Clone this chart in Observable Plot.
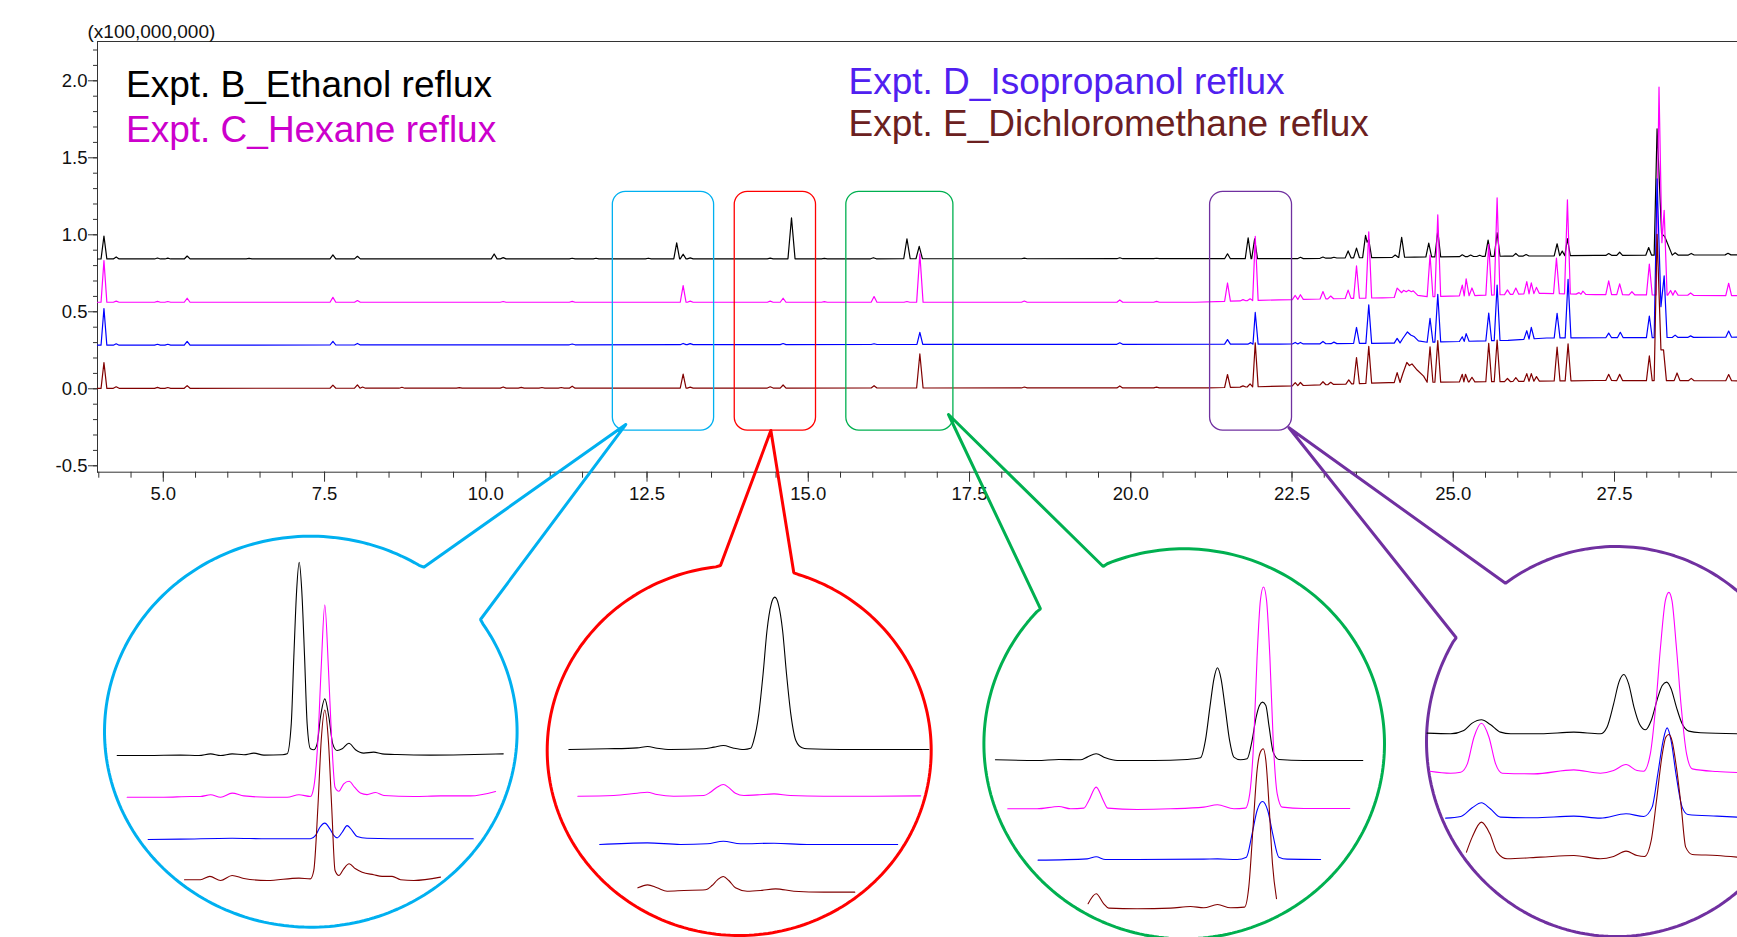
<!DOCTYPE html>
<html><head><meta charset="utf-8">
<script src="https://cdn.jsdelivr.net/npm/d3@7"></script>
<script src="https://cdn.jsdelivr.net/npm/@observablehq/plot@0.6"></script>
<style>
body{margin:0;background:#fff;}
#wrap{position:relative;width:1737px;height:937px;overflow:hidden;background:#fff;}
#wrap svg{position:absolute;left:0;top:0;}
</style></head><body><div id="wrap"></div>
<script>
// ---------------- DATA ----------------
const seriesNames = ["Expt. B_Ethanol reflux","Expt. C_Hexane reflux","Expt. D_Isopropanol reflux","Expt. E_Dichloromethane reflux"];
const lineColors = ["#000000","#ff00ff","#0000ff","#800000"];
const labelColors = ["#000000","#cc00cc","#5020f0","#6b2020"];
const unitLabel = "(x100,000,000)";
const xMajorTicks = [5.0,7.5,10.0,12.5,15.0,17.5,20.0,22.5,25.0,27.5];
const yMajorTicks = [-0.5,0.0,0.5,1.0,1.5,2.0];

// baseline levels (retention time, intensity x1e8)
const baseB = [[3.98,0.843],[22.6,0.845],[23.3,0.85],[24.4,0.855],[25.8,0.861],[27.2,0.866],[29.41,0.87]];
const baseC = [[3.98,0.562],[21.0,0.562],[22.3,0.578],[23.9,0.591],[25.4,0.606],[26.4,0.62],[27.2,0.612],[29.41,0.605]];
const baseD = [[3.98,0.283],[22.3,0.29],[24.0,0.296],[25.85,0.315],[26.45,0.33],[29.41,0.335]];
const baseE = [[3.98,0.003],[21.2,0.006],[22.35,0.017],[24.0,0.04],[25.85,0.047],[27.2,0.054],[29.41,0.052]];

// peaks: [rt, height above baseline, (half-width | 0 = plain vertex)]
const peaksB = [[4.08,0.149],[4.27,0.013],[4.91,0.006],[5.07,0.005],[5.37,0.019],[6.33,0.004],[7.63,0.026],[8.01,0.017],[10.13,0.032],[10.27,0.008],[11.34,0.004],[11.71,0.004],[12.52,0.004],[12.96,0.104],[13.06,0.030],[13.17,0.006],[14.41,0.004],[14.74,0.266,0.055],[15.25,0.003],[16.01,0.007],[16.53,0.130,0.05],[16.72,0.080,0.05],[18.35,0.004],[19.83,0.006],[20.40,0.003],[21.50,0.032],[21.82,0.136],[21.92,0.128],[22.63,0.009],[22.98,0.008],[23.15,0.005],[23.37,0.045],[23.50,0.063],[23.64,0.145],[23.665,0.10,0],[23.69,0.117],[24.10,0.015],[24.20,0.13],[24.62,0.09],[24.76,0.17],[25.14,0.012],[25.27,0.01],[25.41,0.008],[25.54,0.105],[25.68,0.153],[25.97,0.017],[26.13,0.01],[26.61,0.078],[26.69,0.03],[26.77,0.11],[27.41,0.012],[27.58,0.02],[28.03,0.05],[28.16,0.82],[28.23,0.14,0],[28.28,0.12,0],[28.44,0.015],[28.69,0.01],[29.26,0.01]];
const peaksC = [[4.08,0.271],[4.27,0.007],[4.91,0.006],[5.07,0.005],[5.37,0.026],[7.63,0.032],[8.01,0.011],[10.27,0.005],[11.34,0.006],[13.06,0.108],[13.17,0.007],[14.41,0.007],[14.61,0.026],[15.25,0.004],[16.02,0.037],[16.53,0.005],[16.73,0.314,0.05],[18.35,0.008],[19.83,0.015],[20.40,0.006],[21.50,0.119],[21.74,0.008],[21.85,0.012],[21.93,0.416],[22.55,0.026],[22.63,0.03],[22.98,0.048],[23.10,0.018],[23.37,0.054],[23.50,0.21],[23.69,0.43],[24.13,0.06],[24.20,0.03,0],[24.23,0.045,0],[24.27,0.035,0],[24.31,0.045,0],[24.35,0.035,0],[24.38,0.04,0],[24.45,0.01,0],[24.64,0.27],[24.76,0.53],[25.14,0.07],[25.20,0.11],[25.29,0.05],[25.55,0.33],[25.68,0.63],[25.84,0.03],[25.97,0.04],[26.14,0.08],[26.21,0.07],[26.29,0.04],[26.60,0.23],[26.77,0.61],[26.95,0.01],[27.01,0.02],[27.41,0.09],[27.58,0.07],[27.77,0.02],[28.04,0.2],[28.19,1.35],[28.235,0.34,0],[28.27,0.55],[28.37,0.03],[28.44,0.03],[28.68,0.015],[29.27,0.08]];
const peaksD = [[4.08,0.238],[4.27,0.009],[4.91,0.006],[5.07,0.006],[5.37,0.024],[7.63,0.024],[8.01,0.01],[11.34,0.005],[13.06,0.008],[13.17,0.007],[14.61,0.007],[16.02,0.005],[16.73,0.078],[19.83,0.01],[21.50,0.03],[21.86,0.01],[21.93,0.206],[22.55,0.01],[22.63,0.01],[22.98,0.015],[23.15,0.01],[23.50,0.104],[23.69,0.25],[24.13,0.03],[24.22,0.03,0],[24.29,0.07,0],[24.34,0.05,0],[24.39,0.04,0],[24.46,0.01,0],[24.64,0.155],[24.76,0.31],[25.14,0.03],[25.20,0.05],[25.55,0.18],[25.68,0.36],[26.14,0.055],[26.21,0.075],[26.61,0.16],[26.78,0.38],[27.41,0.03],[27.59,0.035],[28.04,0.14],[28.16,1.03],[28.22,0.2,0],[28.27,0.4],[28.44,0.015],[28.68,0.01],[29.27,0.04]];
const peaksE = [[4.08,0.167],[4.27,0.01],[4.91,0.006],[5.07,0.005],[5.37,0.017],[7.63,0.02],[8.01,0.022],[8.09,0.008],[8.70,0.006],[9.59,0.004],[10.27,0.008],[10.55,0.005],[10.87,0.004],[11.17,0.004],[11.34,0.013],[13.06,0.091],[13.17,0.006],[14.41,0.008],[14.61,0.02],[16.02,0.015],[16.73,0.221,0.05],[18.35,0.006],[19.83,0.013],[20.40,0.005],[21.50,0.084],[21.74,0.008],[21.85,0.02],[21.93,0.286],[22.55,0.02],[22.63,0.02],[22.98,0.02],[23.10,0.015],[23.38,0.026],[23.50,0.17],[23.69,0.24],[24.13,0.065],[24.22,0.06,0],[24.28,0.13,0],[24.32,0.11,0],[24.36,0.12,0],[24.44,0.08,0],[24.54,0.04,0],[24.64,0.23],[24.76,0.27],[25.14,0.05],[25.19,0.05],[25.29,0.03],[25.55,0.25],[25.68,0.27],[25.84,0.02],[25.97,0.025],[26.14,0.05],[26.21,0.05],[26.29,0.03],[26.61,0.22],[26.78,0.24],[27.41,0.04],[27.58,0.04],[28.04,0.16],[28.16,0.95],[28.22,0.2,0],[28.26,0.2],[28.47,0.05],[28.69,0.015],[29.27,0.04]];

// callout windows on the main chart (rt range) and their intensity span
const calloutWindows = [[11.97,13.54],[13.86,15.12],[15.59,17.25],[21.23,22.50]];
const calloutSpan = [-0.271,1.279];
const calloutColors = ["#00b0f0","#ff0000","#00b050","#7030a0"];
const calloutTips = [[12.17,-0.232],[14.42,-0.271],[17.174,-0.167],[22.453,-0.253]];

// zoomed insets: [rt, height (x1e6)] per experiment
const cyanB = [[12.249,0],[12.366,0],[12.496,0.02],[12.568,0],[12.614,0.09],[12.653,0],[12.698,0.09],[12.744,0.04],[12.783,0.13],[12.822,0.02],[12.895,0.04],[12.913,0.09],[12.929,1.71],[12.939,5.30],[12.950,8.89],[12.960,10.41],[12.970,8.89],[12.981,5.30],[12.991,1.71],[13.004,0.36],[13.017,0.31],[13.030,0.63],[13.043,2.06],[13.060,3.05],[13.076,2.06],[13.091,0.63],[13.108,0.27],[13.128,0.36],[13.154,0.66],[13.180,0.31],[13.212,0.13],[13.251,0.18],[13.284,0.09],[13.343,0.05],[13.473,0.02],[13.603,0.04],[13.757,0.09]];
const cyanC = [[12.288,0],[12.431,0],[12.535,0.04],[12.574,0.04],[12.614,0.13],[12.653,0],[12.698,0.22],[12.744,0.07],[12.835,0],[12.913,0],[12.959,0.13],[13.004,0.04],[13.017,0.54],[13.033,3.05],[13.046,7.00],[13.060,10.36],[13.074,7.00],[13.087,3.05],[13.100,0.54],[13.115,0.32],[13.134,0.72],[13.155,0.86],[13.176,0.54],[13.199,0.22],[13.225,0.14],[13.258,0.25],[13.291,0.09],[13.408,0.04],[13.512,0.07],[13.629,0.07],[13.727,0.31]];
const cyanD = [[12.370,0],[12.496,0.02],[12.698,0.07],[12.835,0.04],[13.004,0.04],[13.024,0.22],[13.041,0.66],[13.060,0.88],[13.080,0.57],[13.095,0.22],[13.108,0.09],[13.128,0.39],[13.147,0.75],[13.167,0.48],[13.186,0.16],[13.225,0.07],[13.408,0.04],[13.640,0.04]];
const cyanE = [[12.512,0.04],[12.574,0.04],[12.611,0.22],[12.653,0],[12.698,0.27],[12.744,0.11],[12.835,0],[12.959,0.13],[13.004,0.09],[13.017,0.54],[13.033,3.95],[13.046,7.54],[13.060,9.19],[13.074,7.54],[13.087,3.95],[13.100,0.54],[13.115,0.27],[13.134,0.63],[13.155,0.90],[13.180,0.63],[13.206,0.45],[13.251,0.31],[13.284,0.22],[13.323,0.22],[13.356,0.04],[13.408,0],[13.512,0.18]];

const redB = [[14.212,0],[14.310,0.12],[14.387,0.29],[14.414,0.52],[14.438,0.23],[14.473,0],[14.558,0.12],[14.584,0.41],[14.608,0.70],[14.635,0.23],[14.661,0],[14.678,0.2],[14.686,1.57],[14.699,6.22],[14.710,13.21],[14.720,20.77],[14.731,25.42],[14.740,26.59],[14.749,25.42],[14.760,20.77],[14.770,13.21],[14.781,6.22],[14.794,1.57],[14.810,0.29],[14.823,0.12],[14.908,0],[14.994,0],[15.135,0]];
const redC = [[14.235,0],[14.327,0.12],[14.387,0.52],[14.413,0.70],[14.438,0.29],[14.481,0],[14.558,0.12],[14.575,0.70],[14.592,1.57],[14.608,2.04],[14.623,1.45],[14.639,0.52],[14.661,0.12],[14.695,0.23],[14.738,0.41],[14.780,0.12],[14.866,0],[14.994,0],[15.114,0.06]];
const redD = [[14.291,0],[14.413,0.29],[14.498,0],[14.567,0.12],[14.608,0.58],[14.652,0.12],[14.738,0.23],[14.823,0],[15.055,0]];
const redE = [[14.389,0.47],[14.414,0.99],[14.438,0.47],[14.464,-0.12],[14.507,0],[14.562,0.12],[14.579,0.87],[14.593,1.86],[14.608,2.44],[14.622,1.75],[14.639,0.47],[14.669,-0.12],[14.703,0],[14.742,0.29],[14.789,-0.12],[14.866,-0.29],[14.945,-0.29]];

const greenB = [[15.593,0],[15.769,-0.1],[15.861,0.05],[15.952,0],[15.980,0.38],[16.018,0.85],[16.057,0.28],[16.107,-0.1],[16.261,-0.1],[16.402,0.05],[16.458,0.28],[16.479,2.74],[16.498,7.45],[16.515,11.46],[16.530,13.02],[16.545,11.46],[16.562,7.45],[16.581,2.74],[16.599,0.38],[16.627,0],[16.655,0.14],[16.676,2.74],[16.693,6.04],[16.707,7.69],[16.720,8.16],[16.734,7.69],[16.748,4.62],[16.765,1.08],[16.789,0.05],[16.894,-0.1],[17.143,-0.1]];
const greenC = [[15.645,0],[15.769,0],[15.861,0.33],[15.910,0],[15.966,0.09],[15.987,1.18],[16.018,3.07],[16.048,1.18],[16.067,0.09],[16.191,-0.09],[16.332,0],[16.472,0.24],[16.530,0.57],[16.599,0],[16.648,0.09],[16.666,2.12],[16.683,9.67],[16.697,21.46],[16.711,29.48],[16.724,31.37],[16.737,29.48],[16.751,21.46],[16.765,9.67],[16.782,2.12],[16.803,0.24],[16.894,0.05],[17.088,0.05]];
const greenD = [[15.773,-0.09],[15.980,0.09],[16.018,0.38],[16.057,0],[16.191,0],[16.472,0.05],[16.530,0.09],[16.613,0],[16.652,0.33],[16.676,3.63],[16.697,6.93],[16.720,8.21],[16.742,6.93],[16.763,3.63],[16.789,0.33],[16.824,0.05],[16.965,0]];
const greenE = [[15.984,0.71],[16.018,2.12],[16.050,0.71],[16.071,0.09],[16.191,0],[16.332,0.09],[16.416,0.33],[16.472,0.14],[16.530,0.61],[16.585,0.14],[16.644,0.24],[16.662,3.07],[16.681,12.03],[16.697,19.58],[16.711,22.17],[16.723,22.64],[16.734,20.99],[16.748,14.39],[16.762,6.37],[16.779,1.42]];

const purpleB = [[21.375,0.15],[21.428,0],[21.458,0.77],[21.477,2.45],[21.498,3.22],[21.518,2.14],[21.541,0.38],[21.564,0],[21.632,0],[21.707,0.38],[21.767,0],[21.782,1.53],[21.797,6.89],[21.809,11.87],[21.820,13.63],[21.831,11.49],[21.843,6.13],[21.856,2.14],[21.869,0.92],[21.882,3.06],[21.896,8.04],[21.907,11.10],[21.917,11.87],[21.927,10.34],[21.939,6.13],[21.952,2.30],[21.967,0.61],[21.994,0.23],[22.077,0]];
const purpleC = [[21.381,0.46],[21.428,0],[21.451,0.23],[21.466,2.14],[21.481,8.27],[21.498,11.49],[21.515,8.27],[21.530,2.14],[21.545,0],[21.617,-0.15],[21.707,0.77],[21.767,0],[21.797,0.61],[21.825,1.99],[21.850,0.61],[21.865,0.46],[21.880,4.44],[21.892,15.16],[21.903,28.94],[21.914,39.66],[21.922,41.58],[21.929,39.66],[21.939,28.94],[21.950,15.16],[21.962,4.44],[21.975,1.0],[22.031,0.38],[22.077,0.15]];
const purpleD = [[21.417,-0.08],[21.451,0.31],[21.477,2.30],[21.498,3.45],[21.518,2.07],[21.541,0.15],[21.617,0],[21.707,0.38],[21.767,-0.08],[21.825,0.92],[21.865,0.31],[21.884,2.45],[21.897,10.11],[21.909,17.76],[21.918,20.67],[21.927,17.76],[21.938,10.11],[21.952,2.45],[21.965,0.77],[22.031,0.38],[22.077,0.15]];
const purpleE = [[21.464,1.30],[21.477,4.75],[21.498,8.19],[21.517,5.51],[21.533,1.30],[21.556,-0.23],[21.632,0.15],[21.707,0.54],[21.767,-0.23],[21.797,0.31],[21.825,1.53],[21.850,0.54],[21.867,0.31],[21.882,3.98],[21.894,13.17],[21.906,23.12],[21.915,27.72],[21.922,28.33],[21.929,26.95],[21.939,20.83],[21.950,11.64],[21.960,2.45],[21.975,0.77],[22.031,0.54],[22.077,0.15]];

// ---------------- LAYOUT ----------------
const W = 1737, H = 937;
const FONT = "'Liberation Sans', Arial, Helvetica, sans-serif";
const insetLayout = [
  {traces:[cyanB,cyanC,cyanD,cyanE], anchorRt:12.96, anchorX:298.7, pxPerMin:256, pxPerUnit:18.56, base:[755,796.7,839,880],
   ellipse:{cx:310.3,cy:731.2,rx:206.3,ry:195.5}, attach:[[423.3,566.7],[480,619]]},
  {traces:[redB,redC,redD,redE], anchorRt:14.74, anchorX:774.3, pxPerMin:390, pxPerUnit:5.73, base:[749,795.7,844,890],
   ellipse:{cx:738.7,cy:750,rx:192,ry:185}, attach:[[720,565],[793.3,572.3]]},
  {traces:[greenB,greenC,greenD,greenE], anchorRt:16.53, anchorX:1217, pxPerMin:237, pxPerUnit:7.07, base:[759.3,808.3,859,908.3],
   ellipse:{cx:1183.7,cy:743.3,rx:200.3,ry:195}, attach:[[1040,608.3],[1102.7,566]]},
  {traces:[purpleB,purpleC,purpleD,purpleE], anchorRt:21.82, anchorX:1623.3, pxPerMin:442, pxPerUnit:4.35, base:[733.3,772.7,817.3,857.3],
   ellipse:{cx:1616,cy:741,rx:190,ry:195}, attach:[[1455.7,637.3],[1505,582.7]]}
];

// ---------------- HELPERS ----------------
function baselineAt(knots, t){
  for (let i = 1; i < knots.length; i++) {
    if (t <= knots[i][0]) { const [a,va] = knots[i-1], [b,vb] = knots[i]; return va + (vb-va)*(t-a)/(b-a); }
  }
  return knots[knots.length-1][1];
}
function buildTrace(knots, peaks, W0 = 0.045){
  const ps = peaks.slice().sort((a,b)=>a[0]-b[0]);
  const pts = [];
  ps.forEach((p,i)=>{
    const [t,h,k] = p;
    if (k === 0) { pts.push([t, baselineAt(knots,t)+h]); return; }
    const w = k > 0 ? k : W0;
    const prev = ps[i-1], next = ps[i+1];
    let lf = t - w;
    if (prev) { if (prev[2] === 0) { if (prev[0] > t - 2*w) lf = null; } else if (prev[0] > t - 2*w) lf = (prev[0]+t)/2; }
    if (lf != null) pts.push([lf, baselineAt(knots,lf)]);
    pts.push([t, baselineAt(knots,t)+h]);
    let rf = t + w;
    if (next) { if (next[2] === 0) { if (next[0] < t + 2*w) rf = null; } else if (next[0] < t + 2*w) rf = (next[0]+t)/2; }
    if (rf != null) pts.push([rf, baselineAt(knots,rf)]);
  });
  knots.forEach(kn => { if (!ps.some(p => Math.abs(p[0]-kn[0]) < 0.08)) pts.push([kn[0], kn[1]]); });
  pts.sort((a,b)=>a[0]-b[0]);
  return pts;
}

const traces = [buildTrace(baseB,peaksB), buildTrace(baseC,peaksC), buildTrace(baseD,peaksD), buildTrace(baseE,peaksE)];

// ---------------- MAIN CHART ----------------
const axisColor = "#333";
const main = Plot.plot({
  width: W, height: H,
  marginLeft: 97, marginRight: 0, marginTop: 41, marginBottom: H - 471.7,
  x: {domain: [3.98, 29.407]},
  y: {domain: [-0.5416, 2.2552]},
  style: {fontFamily: FONT, background: "#fff", overflow: "visible"},
  marks: [
    Plot.frame({anchor: "top", stroke: axisColor}),
    Plot.frame({anchor: "left", stroke: axisColor}),
    Plot.frame({anchor: "bottom", stroke: axisColor}),
    Plot.axisY(d3.range(-0.5, 2.21, 0.1), {tickSize: 4, tickFormat: () => "", label: null, stroke: axisColor}),
    Plot.axisY(yMajorTicks, {tickSize: 9, tickPadding: 1, tickFormat: d => d.toFixed(1), fontSize: 18.5, label: null, stroke: axisColor, fill: "#111"}),
    Plot.axisX(d3.range(4, 29.01, 0.5), {tickSize: 6, tickFormat: () => "", label: null, stroke: axisColor}),
    Plot.axisX(xMajorTicks, {tickSize: 10, tickPadding: 5, tickFormat: d => d.toFixed(1), fontSize: 18.5, label: null, stroke: axisColor, fill: "#111"}),
    Plot.text([unitLabel], {frameAnchor: "top-left", text: d => d, dx: -10, dy: -4, textAnchor: "start", lineAnchor: "bottom", fontSize: 19, fill: "#111"}),
    ...traces.map((tr, k) => Plot.line(tr, {x: d => d[0], y: d => d[1], stroke: lineColors[k], strokeWidth: 1.2})),
    ...calloutWindows.map((w, k) => Plot.rect([w], {x1: d => d[0], x2: d => d[1], y1: calloutSpan[0], y2: calloutSpan[1], fill: "none", stroke: calloutColors[k], strokeWidth: 1.3, rx: 13})),
    Plot.text([seriesNames[0]], {frameAnchor: "top-left", text: d => d, dx: 28.5, dy: 55.7, textAnchor: "start", lineAnchor: "bottom", fontSize: 37, fill: labelColors[0]}),
    Plot.text([seriesNames[1]], {frameAnchor: "top-left", text: d => d, dx: 28.5, dy: 100.7, textAnchor: "start", lineAnchor: "bottom", fontSize: 37, fill: labelColors[1]}),
    Plot.text([seriesNames[2]], {frameAnchor: "top-left", text: d => d, dx: 751, dy: 52.3, textAnchor: "start", lineAnchor: "bottom", fontSize: 37, fill: labelColors[2]}),
    Plot.text([seriesNames[3]], {frameAnchor: "top-left", text: d => d, dx: 751, dy: 94, textAnchor: "start", lineAnchor: "bottom", fontSize: 37, fill: labelColors[3]})
  ]
});
const wrap = document.getElementById("wrap");
wrap.appendChild(main);

const xs = main.scale("x"), ys = main.scale("y");

// ---------------- CALLOUT BUBBLES ----------------
function outline(ins, tipData){
  const {cx, cy, rx, ry} = ins.ellipse;
  const [A, B] = ins.attach;
  const tip = [xs.apply(tipData[0]), ys.apply(tipData[1])];
  const ang = p => Math.atan2((p[1]-cy)/ry, (p[0]-cx)/rx);
  const a = ang(A), b = ang(B);
  let d = a - b;
  while (d <= -Math.PI) d += 2*Math.PI;
  while (d > Math.PI) d -= 2*Math.PI;
  const long = d > 0 ? d - 2*Math.PI : d + 2*Math.PI;
  const pts = [tip, B];
  const n = 240;
  for (let i = 1; i < n; i++) { const t = b + long*i/n; pts.push([cx + rx*Math.cos(t), cy + ry*Math.sin(t)]); }
  pts.push(A, tip);
  return pts;
}
const deco = Plot.plot({
  width: W, height: H, margin: 0,
  x: {type: "identity", axis: null}, y: {type: "identity", axis: null},
  style: {background: "transparent", overflow: "visible"},
  marks: insetLayout.map((ins, k) => Plot.line(outline(ins, calloutTips[k]), {x: d => d[0], y: d => d[1], stroke: calloutColors[k], strokeWidth: 3, strokeLinejoin: "miter"}))
});
wrap.appendChild(deco);

// ---------------- INSET TRACES ----------------
insetLayout.forEach(ins => {
  const p = Plot.plot({
    width: W, height: H, margin: 0,
    x: {domain: [ins.anchorRt - 1, ins.anchorRt + 1], range: [ins.anchorX - ins.pxPerMin, ins.anchorX + ins.pxPerMin], axis: null},
    y: {domain: [0, 10], range: [ins.base[0], ins.base[0] - 10*ins.pxPerUnit], axis: null},
    style: {background: "transparent", overflow: "visible"},
    marks: ins.traces.map((tr, k) => Plot.line(tr, {x: d => d[0], y: d => d[1], stroke: lineColors[k], strokeWidth: 1.1, curve: "monotone-x", dy: ins.base[k] - ins.base[0]}))
  });
  wrap.appendChild(p);
});
</script></body></html>
